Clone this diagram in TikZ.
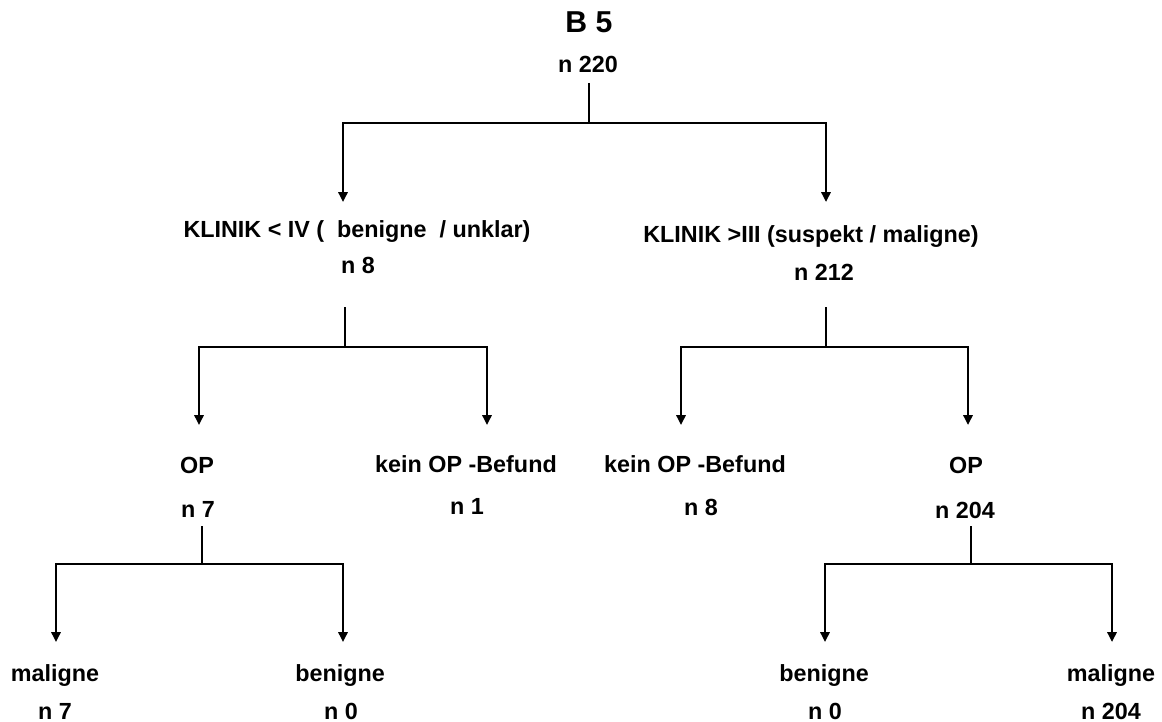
\documentclass[tikz,border=0pt]{standalone}
\usepackage{fontspec}
\setmainfont{Liberation Sans}
\usetikzlibrary{arrows.meta}

\begin{document}
\begin{tikzpicture}[x=0.025cm,y=-0.025cm,
        lbl/.style={font=\fontsize{16.6}{19}\selectfont\bfseries,anchor=base,inner sep=0pt},
        headline/.style={font=\fontsize{21.5}{25}\selectfont\bfseries,anchor=base,inner sep=0pt},
        stemline/.style={line width=1.2pt},
        barline/.style={line width=1.6pt,line cap=rect},
        downarrow/.style={line width=2pt,-{Triangle[length=7pt,width=6.5pt]}}]
                            \useasboundingbox (0,0) rectangle (1162,722);

                            \node[headline] (b5) at (589,33) {B 5};
                            \node[lbl] (n220) at (588,73) {n 220};

                            \node[lbl] (klinikA) at (357,237) {KLINIK < IV (\ \ benigne\ \ / unklar)};
                            \node[lbl] (n8a) at (358,273) {n 8};
                            \node[lbl] (klinikB) at (811,242) {KLINIK >III (suspekt / maligne)};
                            \node[lbl] (n212) at (824,280) {n 212};

                            \node[lbl] (opA) at (197,473) {OP};
                            \node[lbl] (n7a) at (198,517) {n 7};
                            \node[lbl] (keinA) at (466,472) {kein OP -Befund};
                            \node[lbl] (n1) at (467,514) {n 1};
                            \node[lbl] (keinB) at (695,472) {kein OP -Befund};
                            \node[lbl] (n8b) at (701,515) {n 8};
                            \node[lbl] (opB) at (966,473) {OP};
                            \node[lbl] (n204a) at (965,518) {n 204};

                            \node[lbl] (malA) at (55,681) {maligne};
                            \node[lbl] (n7b) at (55,719) {n 7};
                            \node[lbl] (benA) at (340,681) {benigne};
                            \node[lbl] (n0a) at (341,719) {n 0};
                            \node[lbl] (benB) at (824,681) {benigne};
                            \node[lbl] (n0b) at (825,719) {n 0};
                            \node[lbl] (malB) at (1111,681) {maligne};
                            \node[lbl] (n204b) at (1111,719) {n 204};

                            % B 5 -> KLINIK
                            \coordinate (s0) at (589,83);
                            \coordinate (j0) at (589,123);
                            \coordinate (j0l) at (343,123);
                            \coordinate (j0r) at (826,123);
                            \coordinate (t0l) at (343,202);
                            \coordinate (t0r) at (826,202);
                            \draw[stemline] (s0) -- (j0);
                            \draw[barline] (j0l) -- (j0r);
                            \draw[downarrow] (j0l) -- (t0l);
                            \draw[downarrow] (j0r) -- (t0r);

                            % KLINIK < IV
                            \coordinate (s1) at (345,307);
                            \coordinate (j1) at (345,347);
                            \coordinate (j1l) at (199,347);
                            \coordinate (j1r) at (487,347);
                            \coordinate (t1l) at (199,425);
                            \coordinate (t1r) at (487,425);
                            \draw[stemline] (s1) -- (j1);
                            \draw[barline] (j1l) -- (j1r);
                            \draw[downarrow] (j1l) -- (t1l);
                            \draw[downarrow] (j1r) -- (t1r);

                            % KLINIK >III
                            \coordinate (s2) at (826,307);
                            \coordinate (j2) at (826,347);
                            \coordinate (j2l) at (681,347);
                            \coordinate (j2r) at (968,347);
                            \coordinate (t2l) at (681,425);
                            \coordinate (t2r) at (968,425);
                            \draw[stemline] (s2) -- (j2);
                            \draw[barline] (j2l) -- (j2r);
                            \draw[downarrow] (j2l) -- (t2l);
                            \draw[downarrow] (j2r) -- (t2r);

                            % OP links
                            \coordinate (s3) at (202,526);
                            \coordinate (j3) at (202,564);
                            \coordinate (j3l) at (56,564);
                            \coordinate (j3r) at (343,564);
                            \coordinate (t3l) at (56,642);
                            \coordinate (t3r) at (343,642);
                            \draw[stemline] (s3) -- (j3);
                            \draw[barline] (j3l) -- (j3r);
                            \draw[downarrow] (j3l) -- (t3l);
                            \draw[downarrow] (j3r) -- (t3r);

                            % OP rechts
                            \coordinate (s4) at (971,526);
                            \coordinate (j4) at (971,564);
                            \coordinate (j4l) at (825,564);
                            \coordinate (j4r) at (1112,564);
                            \coordinate (t4l) at (825,642);
                            \coordinate (t4r) at (1112,642);
                            \draw[stemline] (s4) -- (j4);
                            \draw[barline] (j4l) -- (j4r);
                            \draw[downarrow] (j4l) -- (t4l);
                            \draw[downarrow] (j4r) -- (t4r);
                    \end{tikzpicture}
\end{document}
